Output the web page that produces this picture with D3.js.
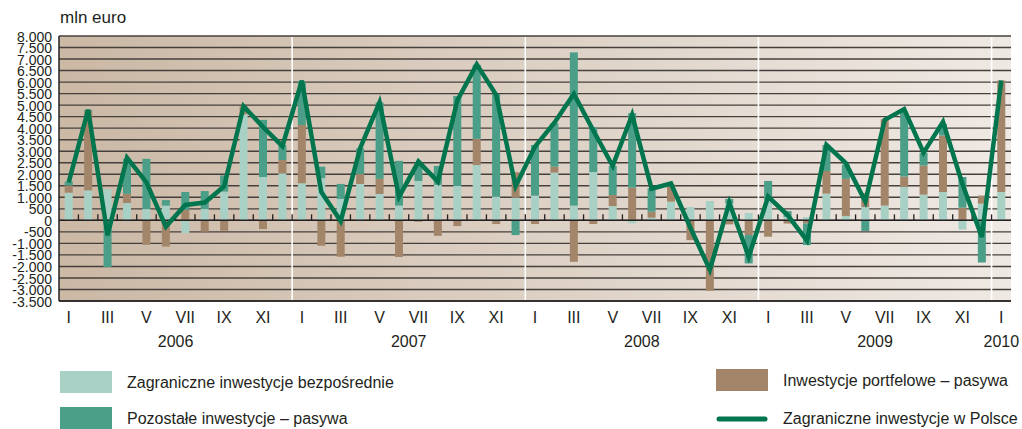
<!DOCTYPE html>
<html>
<head>
<meta charset="utf-8">
<script src="https://cdn.jsdelivr.net/npm/d3@7"></script>
<style>
  body { margin: 0; background: #fff; }
  svg text { font-family: "Liberation Sans Narrow", "Liberation Sans", sans-serif; fill: #231f20; }
</style>
</head>
<body>
<svg id="chart" width="1022" height="429"></svg>
<script>
// months Jan 2006 .. Jan 2010
const romanMonths = ["I","II","III","IV","V","VI","VII","VIII","IX","X","XI","XII"]
const years = ["2006","2007","2008","2009","2010"]
const yTicks = [-3500,-3000,-2500,-2000,-1500,-1000,-500,0,500,1000,1500,2000,2500,3000,3500,4000,4500,5000,5500,6000,6500,7000,7500,8000]

const fdi = [1200,1300,1350,750,490,640,-560,490,1250,4600,1880,2040,
  1610,1830,930,1580,1145,640,1710,1540,1490,2400,1030,985,
  1070,2070,640,2100,620,-130,115,810,580,840,740,320,
  880,150,140,1160,190,580,640,1450,1115,1230,-400,725,
  1230]
const portfolio = [310,3450,0,400,-1060,-1140,450,-490,-450,350,-380,580,
  2530,-1100,-1580,430,655,-1590,-60,-670,-250,1135,-160,1100,
  -160,260,-1800,-160,480,1420,260,750,-860,-3060,-175,-640,
  -710,-140,-130,985,1610,600,3750,450,1260,2450,550,350,
  4840]
const other = [175,50,-2030,1520,2180,240,780,780,700,0,2480,650,
  1890,500,650,1120,3315,1940,790,820,3910,3215,4450,-640,
  2200,1885,6650,1940,1260,3230,1015,0,0,0,190,-1230,
  830,250,-940,1130,620,-460,0,2820,565,500,1330,-1830,
  0]
const total = [1650,4800,-650,2720,1650,-270,670,770,1480,4950,4050,3220,
  6060,1230,-30,3130,5120,1020,2550,1680,5200,6770,5450,1480,
  3200,4240,5490,3900,2360,4580,1370,1600,-320,-2150,770,-1580,
  1030,230,-880,3275,2480,820,4360,4830,2940,4280,1580,-720,
  6070]

const colors = { fdi: "#a9d0c4", portfolio: "#a3866a", other: "#4b9e88", line: "#00754e" }

const categories = []
years.forEach(yr => romanMonths.forEach(m => { if (categories.length < 49) categories.push({ year: yr, month: m }) }))
const rows = categories.map((c, i) => ({ i: i, fdi: fdi[i], portfolio: portfolio[i], other: other[i], total: total[i] }))

const plot = { left: 59, right: 1011, top: 36, bottom: 301 }

const svg = d3.select("#chart")

const x = d3.scaleBand().domain(d3.range(categories.length)).range([plot.left, plot.right]).padding(0)
const y = d3.scaleLinear().domain([-3500, 8000]).range([plot.bottom, plot.top])
const barW = 8

// background gradient
const grad = svg.append("defs").append("linearGradient").attr("id", "bg")
grad.append("stop").attr("offset", "0%").attr("stop-color", "#cbb8a5")
grad.append("stop").attr("offset", "100%").attr("stop-color", "#efe9e4")
svg.append("rect").attr("x", plot.left).attr("y", plot.top)
  .attr("width", plot.right - plot.left).attr("height", plot.bottom - plot.top).attr("fill", "url(#bg)")

// gridlines
svg.append("g").selectAll("line").data(yTicks).enter().append("line")
  .attr("x1", plot.left).attr("x2", plot.right)
  .attr("y1", d => y(d)).attr("y2", d => y(d))
  .attr("stroke", "#46403c").attr("stroke-width", 1.4)

// year separators
svg.append("g").selectAll("line").data(categories.filter((c, i) => i > 0 && c.month === "I")).enter().append("line")
  .attr("x1", d => x(categories.indexOf(d))).attr("x2", d => x(categories.indexOf(d)))
  .attr("y1", plot.top + 1).attr("y2", plot.bottom - 1)
  .attr("stroke", "#fff").attr("stroke-width", 1.6)

// stacked bars
const stack = d3.stack().keys(["fdi", "portfolio", "other"]).offset(d3.stackOffsetDiverging)
svg.append("g").selectAll("g").data(stack(rows)).enter().append("g")
  .attr("fill", s => colors[s.key])
  .selectAll("rect").data(s => s).enter().append("rect")
  .attr("x", d => x(d.data.i) + (x.bandwidth() - barW) / 2)
  .attr("width", barW)
  .attr("y", d => y(Math.max(d[0], d[1])))
  .attr("height", d => Math.abs(y(d[0]) - y(d[1])))

// zero axis with ticks
svg.append("line").attr("x1", plot.left).attr("x2", plot.right).attr("y1", y(0)).attr("y2", y(0))
  .attr("stroke", "#231f20").attr("stroke-width", 1.5)
svg.append("g").selectAll("line").data(d3.range(1, categories.length)).enter().append("line")
  .attr("x1", d => x(d)).attr("x2", d => x(d))
  .attr("y1", y(0)).attr("y2", y(0) - 6)
  .attr("stroke", "#231f20").attr("stroke-width", 1.3)

// left axis
const fmt = d3.formatLocale({ decimal: ",", thousands: ".", grouping: [3], currency: ["", ""], minus: "-" }).format(",d")
const yAxis = svg.append("g").attr("transform", "translate(" + plot.left + ",0)")
  .call(d3.axisLeft(y).tickValues(yTicks).tickFormat(fmt).tickSize(0).tickPadding(7))
yAxis.select(".domain").remove()
yAxis.selectAll("text").style("font-size", "14px").attr("dy", "0.36em")
svg.append("line").attr("x1", plot.left).attr("x2", plot.left).attr("y1", plot.top).attr("y2", plot.bottom)
  .attr("stroke", "#231f20").attr("stroke-width", 1.5)
svg.append("line").attr("x1", plot.left).attr("x2", plot.right).attr("y1", plot.bottom).attr("y2", plot.bottom)
  .attr("stroke", "#231f20").attr("stroke-width", 1.5)

// total line
const line = d3.line().x(d => x(d.i) + x.bandwidth() / 2).y(d => y(d.total))
svg.append("path").datum(rows).attr("d", line)
  .attr("fill", "none").attr("stroke", colors.line).attr("stroke-width", 4.5).attr("stroke-linejoin", "miter")

// month labels
svg.append("g").selectAll("text").data(categories.filter((c, i) => i % 2 === 0)).enter().append("text")
  .attr("x", d => x(categories.indexOf(d)) + x.bandwidth() / 2)
  .attr("y", 323).attr("text-anchor", "middle").style("font-size", "16px")
  .text(d => d.month)

// year labels
svg.append("g").selectAll("text").data(years).enter().append("text")
  .attr("x", yr => {
    const idx = categories.map((c, i) => c.year === yr ? i : -1).filter(i => i >= 0)
    return (x(idx[0]) + x(idx[idx.length - 1]) + x.bandwidth()) / 2
  })
  .attr("y", 347).attr("text-anchor", "middle").style("font-size", "16px")
  .text(d => d)

svg.append("text").attr("x", 60).attr("y", 23).style("font-size", "17px").text("mln euro")

// legend
const legend = [
  { label: "Zagraniczne inwestycje bezpośrednie", color: colors.fdi, type: "box", lx: 60, ly: 371 },
  { label: "Pozostałe inwestycje – pasywa", color: colors.other, type: "box", lx: 60, ly: 407 },
  { label: "Inwestycje portfelowe – pasywa", color: colors.portfolio, type: "box", lx: 716, ly: 369 },
  { label: "Zagraniczne inwestycje w Polsce", color: colors.line, type: "line", lx: 716, ly: 407 }
]
const lg = svg.append("g").selectAll("g").data(legend).enter().append("g")
lg.filter(d => d.type === "box").append("rect")
  .attr("x", d => d.lx).attr("y", d => d.ly).attr("width", 52).attr("height", 22).attr("fill", d => d.color)
lg.filter(d => d.type === "line").append("line")
  .attr("x1", d => d.lx + 3).attr("x2", d => d.lx + 49).attr("y1", d => d.ly + 12).attr("y2", d => d.ly + 12)
  .attr("stroke", d => d.color).attr("stroke-width", 5).attr("stroke-linecap", "round")
lg.append("text").attr("x", d => d.lx + 67).attr("y", d => d.ly + 17).style("font-size", "16px").text(d => d.label)
</script>
</body>
</html>
